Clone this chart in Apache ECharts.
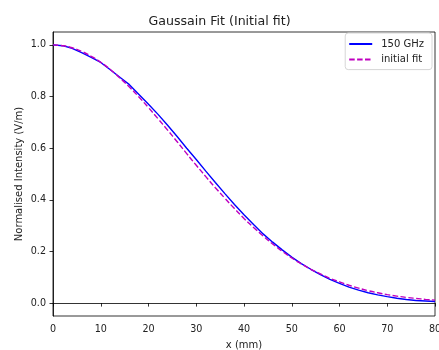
<!DOCTYPE html>
<html>
<head>
<meta charset="utf-8">
<script src="https://cdn.jsdelivr.net/npm/echarts@6/dist/echarts.min.js"></script>
<style>
  html, body { margin: 0; padding: 0; background: #fff; }
  #chart { width: 439px; height: 350px; }
</style>
</head>
<body>
<div id="chart"></div>
<script>
// Beam profile positions (mm)
const positions = [0, 2, 4, 6, 8, 10, 12, 14, 16, 18, 20, 22, 24, 26, 28, 30, 32, 34, 36, 38, 40,
  42, 44, 46, 48, 50, 52, 54, 56, 58, 60, 62, 64, 66, 68, 70, 72, 74, 76, 78, 80];

// Measured normalised intensity at 150 GHz
const measured = [1.000, 0.997, 0.987, 0.970, 0.952, 0.932, 0.904, 0.875, 0.846, 0.808, 0.770,
  0.731, 0.689, 0.645, 0.600, 0.556, 0.511, 0.467, 0.424, 0.382, 0.342,
  0.304, 0.268, 0.236, 0.206, 0.178, 0.153, 0.131, 0.110, 0.092, 0.076,
  0.062, 0.050, 0.040, 0.032, 0.025, 0.019, 0.014, 0.010, 0.008, 0.006];

// Initial Gaussian fit
const initialFit = [1.000, 0.997, 0.989, 0.975, 0.956, 0.933, 0.905, 0.872, 0.837, 0.798, 0.757,
  0.714, 0.670, 0.625, 0.579, 0.534, 0.490, 0.447, 0.406, 0.366, 0.328,
  0.293, 0.260, 0.229, 0.201, 0.175, 0.152, 0.131, 0.113, 0.096, 0.082,
  0.069, 0.058, 0.048, 0.040, 0.033, 0.027, 0.022, 0.018, 0.0145, 0.0116];

const yTicks = [0.0, 0.2, 0.4, 0.6, 0.8, 1.0];

const pairs = (ys) => positions.map((x, i) => [x, ys[i]]);
const FONT = 'DejaVu Sans';
const TEXT = '#222';

const chart = echarts.init(document.getElementById('chart'), null, { renderer: 'canvas' });
chart.setOption({
  animation: false,
  backgroundColor: '#fff',
  textStyle: { fontFamily: FONT },
  title: {
    text: 'Gaussain Fit (Initial fit)',
    left: 'center',
    top: 10,
    textStyle: { fontFamily: FONT, fontSize: 12.6, fontWeight: 'normal', color: TEXT }
  },
  legend: {
    right: 7,
    top: 33,
    orient: 'vertical',
    itemWidth: 23,
    itemHeight: 10,
    itemGap: 5.6,
    padding: [6, 8, 5, 3],
    backgroundColor: '#fff',
    borderColor: '#d6d6d6',
    borderWidth: 1,
    borderRadius: 3,
    itemStyle: { opacity: 0 },
    textStyle: { fontFamily: FONT, fontSize: 10, color: TEXT, padding: [0, 0, 0, 4] },
    data: ['150 GHz', 'initial fit']
  },
  grid: {
    left: 53, right: 4, top: 32, bottom: 34,
    outerBoundsMode: 'none',
    containLabel: false,
    show: true, borderColor: '#000', borderWidth: 0.8, backgroundColor: 'transparent'
  },
  xAxis: {
    type: 'value',
    min: 0, max: 80, interval: 10,
    name: 'x (mm)',
    nameLocation: 'middle',
    nameGap: 24,
    nameMoveOverlap: false,
    nameTextStyle: { fontFamily: FONT, fontSize: 10, color: TEXT },
    axisLine: { show: true, lineStyle: { color: '#000', width: 0.8 } },
    axisTick: { show: true, inside: false, length: 3.5, lineStyle: { color: '#000', width: 0.8 } },
    axisLabel: { fontFamily: FONT, fontSize: 9.6, color: TEXT, margin: 8 },
    splitLine: { show: false }
  },
  yAxis: {
    type: 'value',
    min: -0.05, max: 1.05,
    name: 'Normalised Intensity (V/m)',
    nameLocation: 'middle',
    nameGap: 29,
    nameMoveOverlap: false,
    nameTextStyle: { fontFamily: FONT, fontSize: 10, color: TEXT },
    axisLine: { show: true, lineStyle: { color: '#000', width: 0.8 } },
    axisTick: { show: true, inside: false, length: 3.5, customValues: yTicks, lineStyle: { color: '#000', width: 0.8 } },
    axisLabel: {
      fontFamily: FONT, fontSize: 9.6, color: TEXT, margin: 7,
      customValues: yTicks,
      formatter: (v) => v.toFixed(1)
    },
    splitLine: { show: false }
  },
  series: [
    {
      name: '150 GHz',
      type: 'line',
      data: pairs(measured),
      symbol: 'none',
      smooth: false,
      color: '#0000ff',
      lineStyle: { color: '#0000ff', width: 1.4 },
      z: 2
    },
    {
      name: 'initial fit',
      type: 'line',
      data: pairs(initialFit),
      symbol: 'none',
      smooth: true,
      color: '#bf00bf',
      lineStyle: { color: '#bf00bf', width: 1.4, type: [5.5, 2.4] },
      z: 3
    }
  ]
});
</script>
</body>
</html>
